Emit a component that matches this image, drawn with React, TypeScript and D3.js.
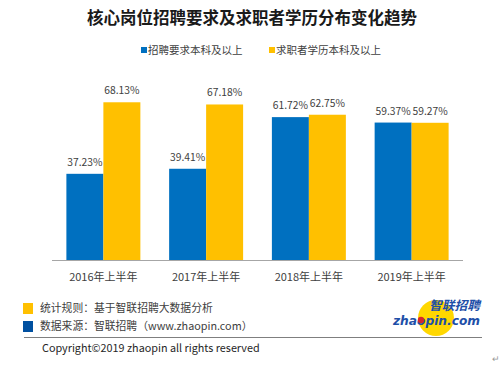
import * as d3 from "d3";

const W = 500;
const H = 367;

const categories = ["2016年上半年", "2017年上半年", "2018年上半年", "2019年上半年"];
const seriesNames = ["招聘要求本科及以上", "求职者学历本科及以上"];
const requireValues = [37.23, 39.41, 61.72, 59.37];
const seekerValues = [68.13, 67.18, 62.75, 59.27];
const COLORS = ["#0070C0", "#FFC000"];

const FONT = "'Noto Sans CJK SC', 'Noto Sans', sans-serif";
const MARGIN = { left: 52, right: 37, baseline: 260, top: 28.5 };

export default function App() {
  const x0 = d3
    .scaleBand()
    .domain(categories)
    .range([MARGIN.left, W - MARGIN.right])
    .paddingInner(0.28)
    .paddingOuter(0.14);
  const x1 = d3
    .scaleBand()
    .domain(seriesNames)
    .range([0, x0.bandwidth()])
    .padding(0);
  const y = d3.scaleLinear().domain([0, 100]).range([MARGIN.baseline, MARGIN.top]);

  const series = [requireValues, seekerValues];

  return (
    <svg width={W} height={H} style={{ display: "block", position: "absolute", left: 0, top: 0 }}>
      <rect width={W} height={H} fill="#fff" />
      {/* title */}
      <text
        x={252}
        y={24}
        textAnchor="middle"
        fontFamily={FONT}
        fontWeight="bold"
        fontSize={16.5}
        fill="#1a1a1a"
      >
        核心岗位招聘要求及求职者学历分布变化趋势
      </text>

      {/* legend */}
      {seriesNames.map((name, i) => {
        const lx = i === 0 ? 141 : 269;
        return (
          <g key={name}>
            <rect x={lx} y={47} width={6} height={6} fill={COLORS[i]} />
            <text x={lx + 7} y={54} fontFamily={FONT} fontSize={10.5} fill="#404040">
              {name}
            </text>
          </g>
        );
      })}

      {/* bars */}
      {categories.map((c, ci) => (
        <g key={c} transform={`translate(${x0(c)},0)`}>
          {series.map((vals, si) => {
            const bx = x1(seriesNames[si])!;
            const v = vals[ci];
            return (
              <g key={si}>
                <rect
                  x={bx}
                  y={y(v)}
                  width={x1.bandwidth()}
                  height={y(0) - y(v)}
                  fill={COLORS[si]}
                />
                <text
                  x={bx + x1.bandwidth() / 2}
                  y={y(v) - 8}
                  textAnchor="middle"
                  fontFamily={FONT}
                  fontSize={10.3}
                  fill="#404040"
                >
                  {v.toFixed(2)}%
                </text>
              </g>
            );
          })}
          <text
            x={x0.bandwidth() / 2}
            y={281}
            textAnchor="middle"
            fontFamily={FONT}
            fontSize={11}
            fill="#404040"
          >
            {c}
          </text>
        </g>
      ))}

      {/* axis line */}
      <line
        x1={MARGIN.left}
        x2={W - MARGIN.right}
        y1={MARGIN.baseline + 0.5}
        y2={MARGIN.baseline + 0.5}
        stroke="#a6a6a6"
        strokeWidth={1}
      />

      {/* footer notes */}
      <rect x={23} y={303} width={10} height={11} fill="#FFC000" />
      <text x={40} y={311.5} fontFamily={FONT} fontSize={10.8} fill="#404040">
        统计规则：基于智联招聘大数据分析
      </text>
      <rect x={23} y={321} width={10} height={11} fill="#0050A0" />
      <text x={40} y={330} fontFamily={FONT} fontSize={10.8} fill="#404040">
        数据来源：智联招聘（www.zhaopin.com）
      </text>
      <line x1={24} x2={482} y1={337.5} y2={337.5} stroke="#7f7f7f" strokeWidth={1} />
      <text x={42} y={352} fontFamily={FONT} fontSize={10.8} fill="#262626">
        Copyright©2019 zhaopin all rights reserved
      </text>

      {/* logo */}
      <circle cx={436} cy={318} r={18} fill="#FFD700" />
      <text
        x={429}
        y={310}
        fontFamily={FONT}
        fontSize={12.5}
        fontWeight="bold"
        fontStyle="italic"
        fill="#1e4fa8"
        textLength={51}
        lengthAdjust="spacingAndGlyphs"
      >
        智联招聘
      </text>
      <text
        x={393}
        y={325}
        fontFamily="'DejaVu Sans', sans-serif"
        fontSize={13}
        fontWeight="bold"
        fontStyle="italic"
        fill="#1e4fa8"
        textLength={87}
        lengthAdjust="spacingAndGlyphs"
      >
        zhaopin.com
      </text>
      <circle cx={421} cy={320} r={3.2} fill="#d7262d" />

      <text x={492} y={362} fontFamily={FONT} fontSize={9} fill="#999">
        ↵
      </text>
    </svg>
  );
}
